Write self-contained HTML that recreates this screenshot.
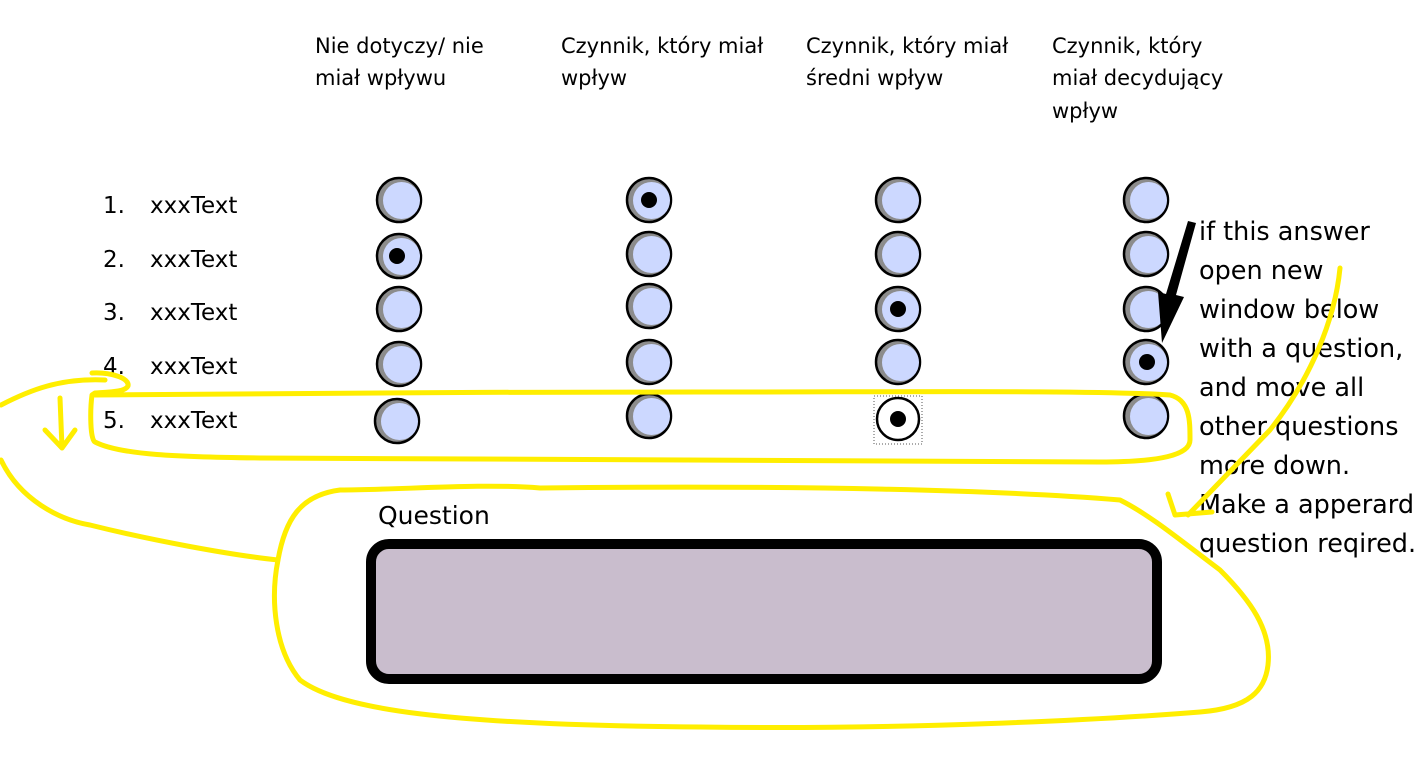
<!DOCTYPE html>
<html><head><meta charset="utf-8"><style>
html,body{margin:0;padding:0;background:#fff;width:1416px;height:769px;overflow:hidden}
svg{display:block}
text{font-family:"DejaVu Sans","Liberation Sans",sans-serif;fill:#000}
</style></head><body>
<svg width="1416" height="769" viewBox="0 0 1416 769" xmlns="http://www.w3.org/2000/svg">
<defs>
<g id="r"><circle r="22" fill="#8c8c8c" stroke="#000" stroke-width="2.5"/><circle cx="2.5" cy="0.5" r="18.5" fill="#ccd8ff"/></g>
</defs>
<g font-size="21">
<text x="315" y="53">Nie dotyczy/ nie</text><text x="315" y="85">miał wpływu</text>
<text x="561" y="53">Czynnik, który miał</text><text x="561" y="85">wpływ</text>
<text x="806" y="53">Czynnik, który miał</text><text x="806" y="85">średni wpływ</text>
<text x="1052" y="53">Czynnik, który</text><text x="1052" y="85">miał decydujący</text><text x="1052" y="118">wpływ</text>
</g>
<g font-size="23">
<text x="103" y="213">1.</text><text x="150" y="213">xxxText</text>
<text x="103" y="267">2.</text><text x="150" y="267">xxxText</text>
<text x="103" y="320">3.</text><text x="150" y="320">xxxText</text>
<text x="103" y="374">4.</text><text x="150" y="374">xxxText</text>
<text x="103" y="428">5.</text><text x="150" y="428">xxxText</text>
</g>
<g>
<use href="#r" x="399" y="200"/><use href="#r" x="399" y="256"/><use href="#r" x="399" y="309"/><use href="#r" x="399" y="364"/><use href="#r" x="397" y="421"/>
<use href="#r" x="649" y="200"/><use href="#r" x="649" y="254"/><use href="#r" x="649" y="306"/><use href="#r" x="649" y="362"/><use href="#r" x="649" y="416"/>
<use href="#r" x="898" y="200"/><use href="#r" x="898" y="254"/><use href="#r" x="898" y="309"/><use href="#r" x="898" y="362"/>
<use href="#r" x="1146" y="200"/><use href="#r" x="1146" y="254"/><use href="#r" x="1146" y="309"/><use href="#r" x="1146" y="362"/><use href="#r" x="1146" y="416"/>
<rect x="874" y="396" width="48" height="48" fill="none" stroke="#555" stroke-width="1" stroke-dasharray="1,2"/>
<circle cx="898" cy="419" r="21" fill="#fff" stroke="#000" stroke-width="2.5"/>
</g>
<g fill="#000">
<circle cx="649" cy="200" r="8"/><circle cx="397" cy="256" r="8"/><circle cx="898" cy="309" r="8"/><circle cx="1147" cy="362" r="8"/><circle cx="898" cy="419" r="8"/>
</g>
<path d="M1188 221 L1196 223 L1176 295 L1184 297 L1162 343 L1158 292 L1166 294 Z" fill="#000"/>
<g font-size="25.5">
<text x="1199" y="240">if this answer</text>
<text x="1199" y="279">open new</text>
<text x="1199" y="318">window below</text>
<text x="1199" y="357">with a question,</text>
<text x="1199" y="396">and move all</text>
<text x="1199" y="435">other questions</text>
<text x="1199" y="474">more down.</text>
<text x="1199" y="513">Make a apperard</text>
<text x="1199" y="552">question reqired.</text>
</g>
<text x="378" y="524" font-size="25">Question</text>
<rect x="371" y="544" width="786" height="135" rx="18" fill="#c9bdcd" stroke="#000" stroke-width="10"/>
<g fill="none" stroke="#ffee00" stroke-width="5" stroke-linecap="round" stroke-linejoin="round">
<path d="M92 373 C110 372 130 378 128 386 C125 392 110 392 95 393 L92 395 C90 410 90 440 95 442 C120 455 180 457 260 458 C500 460 800 462 1100 462 C1160 462 1190 455 1190 440 C1190 420 1190 400 1170 395 C1100 390 900 392 700 392 C500 392 250 393 95 395"/>
<path d="M1 405 C30 390 60 378 105 380"/>
<path d="M60 398 L62 448 M45 430 L62 448 L75 430"/>
<path d="M1 460 C20 500 60 520 90 525 C150 540 230 555 278 560"/>
<path d="M278 560 C270 600 275 650 300 680 C340 710 450 725 700 727 C900 730 1100 720 1200 712 C1250 708 1265 690 1268 665 C1272 630 1250 600 1220 570 C1180 540 1150 515 1120 500 C1000 490 800 485 540 488 C480 483 400 490 340 490 C300 495 285 520 278 560"/>
<path d="M1340 268 C1335 320 1310 380 1270 430 L1188 515"/>
<path d="M1168 494 L1175 515 L1212 512"/>
</g>
</svg>
</body></html>
